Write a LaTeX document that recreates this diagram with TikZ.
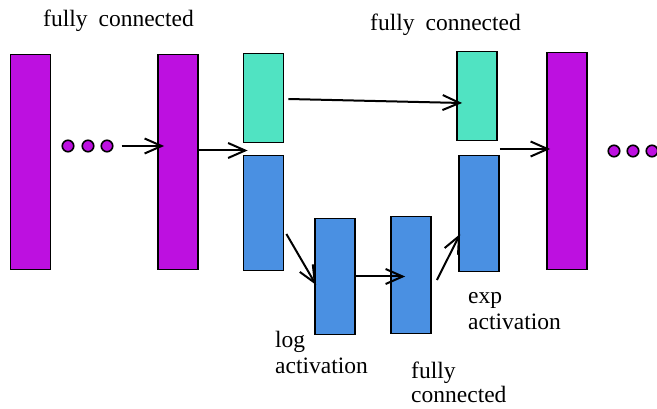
\documentclass[tikz,border=0pt]{standalone}
\usepackage{fontspec}
\setmainfont{Liberation Serif}
\usetikzlibrary{arrows.meta,calc}
\definecolor{purp}{HTML}{BD10E0}
\definecolor{mint}{HTML}{50E3C2}
\definecolor{sky}{HTML}{4A90E2}
\newcommand\widespaces{\spaceskip=11pt plus 2pt\relax}
\begin{document}
\begin{tikzpicture}[x=1pt,y=-1pt,
  layer/.style={draw=black,line width=1.8pt,inner sep=0pt,minimum width=40pt},
  purple layer/.style={layer,fill=purp},
  green layer/.style={layer,fill=mint},
  blue layer/.style={layer,fill=sky},
  dot/.style={circle,draw=black,line width=1.6pt,fill=purp,inner sep=0pt,minimum size=11.5pt},
  arr/.style={draw=black,line width=2pt,-{Straight Barb[length=17pt,width=15pt,line width=2pt]}},
  lbl/.style={inner sep=0pt,font=\fontsize{23.5}{26}\selectfont,align=left}]
\useasboundingbox (0,0) rectangle (657,409);
% layers
\node[purple layer,minimum height=215pt] (p1) at (30.5,162) {};
\node[purple layer,minimum height=215pt] (p2) at (178,162) {};
\node[green layer,minimum height=89pt] (g1) at (263.5,98) {};
\node[blue layer,minimum height=115pt] (b1) at (263.5,213) {};
\node[blue layer,minimum height=116pt] (b2) at (335,276.5) {};
\node[blue layer,minimum height=117pt] (b3) at (411,275) {};
\node[green layer,minimum height=89pt] (g2) at (477,96) {};
\node[blue layer,minimum height=116pt] (b4) at (479,213.5) {};
\node[purple layer,minimum height=217pt] (p3) at (567,161) {};
% dots
\node[dot] (d1) at (68,146) {};
\node[dot] (d2) at (88,146) {};
\node[dot] (d3) at (107,146) {};
\node[dot] (e1) at (614,151) {};
\node[dot] (e2) at (633,151) {};
\node[dot] (e3) at (652,151) {};
% helper coordinates
\coordinate (gap1) at ($(g1.south)!0.5!(b1.north)+(0,1.5)$);
\coordinate (gap2) at ($(g2.south)!0.5!(b4.north)+(0,1)$);
\coordinate (s1) at ($(d3.east)+(8,0)$);
\coordinate (t1) at ($(p2.west |- d3.east)+(7,0)$);
\coordinate (s2) at (p2.east |- gap1);
\coordinate (t2) at ($(b1.west |- gap1)+(5,0)$);
\coordinate (s3) at ($(g1.east)+(4,1)$);
\coordinate (t3) at ($(g2.west)+(6,7)$);
\coordinate (s4) at ($(b1.east)+(2,21)$);
\coordinate (t4) at ($(b2.west)+(2,8.5)$);
\coordinate (s5) at (b2.east);
\coordinate (t5) at ($(b3.west |- b2.east)+(15,0)$);
\coordinate (s6) at ($(b3.east)+(5,5)$);
\coordinate (t6) at ($(b4.west)+(2,20.5)$);
\coordinate (s7) at (b4.east |- gap2);
\coordinate (t7) at ($(p3.west |- gap2)+(4,0)$);
% arrows
\draw[arr] (s1) -- (t1);
\draw[arr] (s2) -- (t2);
\draw[arr] (s3) -- (t3);
\draw[arr] (s4) -- (t4);
\draw[arr] (s5) -- (t5);
\draw[arr] (s6) -- (t6);
\draw[arr] (s7) -- (t7);
% labels
\node[lbl,anchor=base west] (l1) at (43,27) {\widespaces fully connected};
\node[lbl,anchor=base west] (l2) at (370,31) {\widespaces fully connected};
\node[lbl,anchor=north west] (l3) at (275,328.8) {\strut log\\activation};
\node[lbl,anchor=north west,font=\fontsize{23.5}{24}\selectfont] (l4) at (411,361.2) {\strut fully\\connected};
\node[lbl,anchor=north west] (l5) at (468,284.8) {\strut exp\\activation};
\end{tikzpicture}
\end{document}
